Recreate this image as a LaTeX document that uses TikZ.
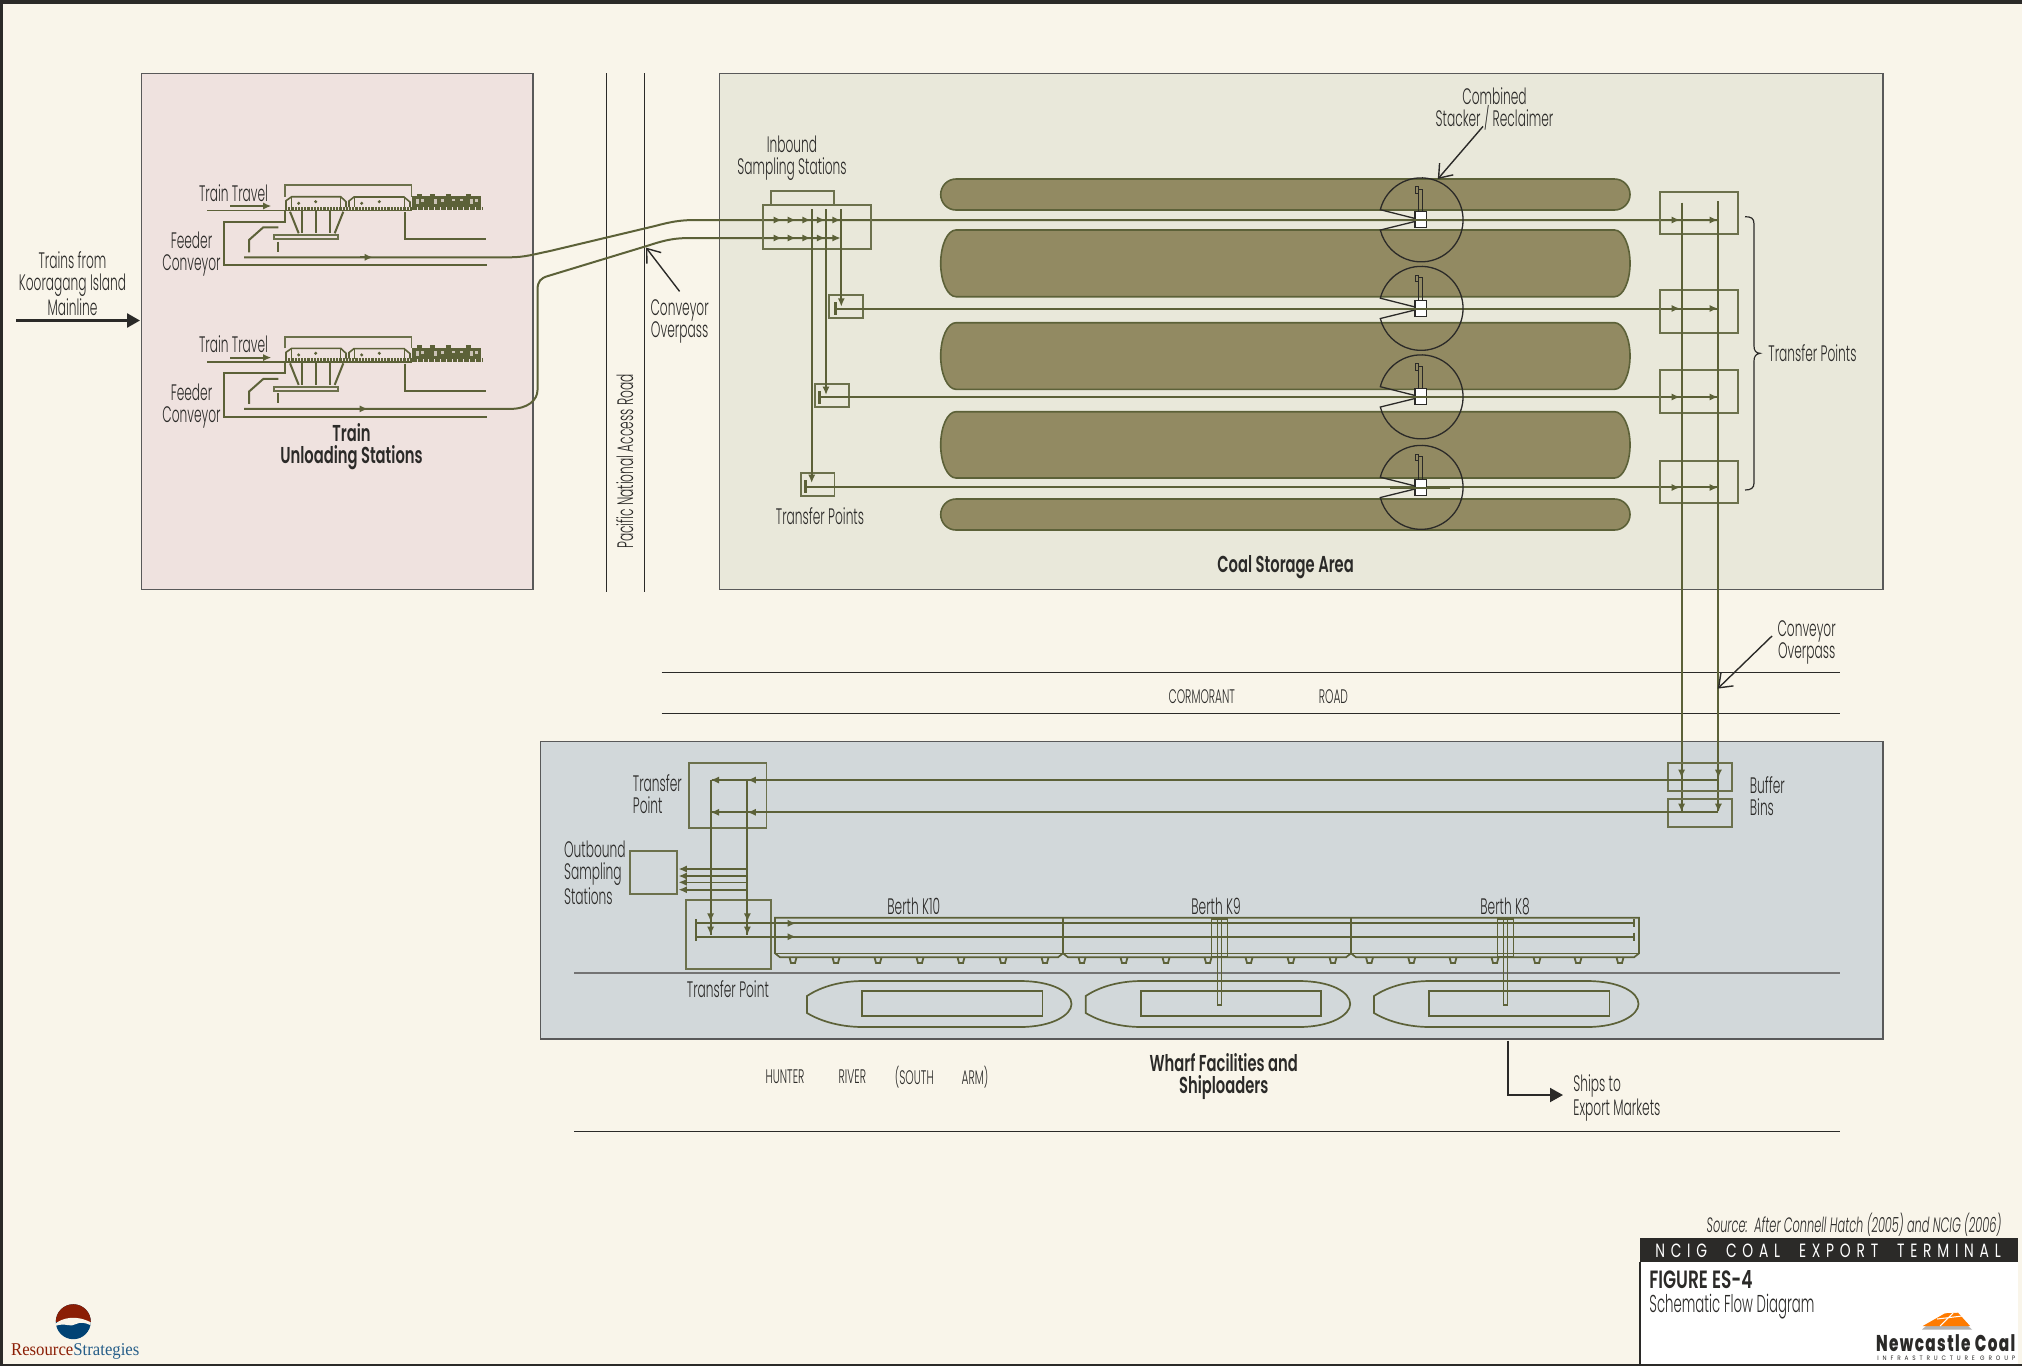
\documentclass[tikz,border=0pt]{standalone}
\usepackage{fontspec}
\setmainfont[FakeStretch=0.545,ItalicFont={Poppins Light Italic}]{Poppins Light}
\newfontfamily\titlefont[FakeStretch=0.64]{Poppins SemiBold}
\newfontfamily\barfont[FakeStretch=0.72,LetterSpace=30,WordSpace=2]{Poppins}
\newfontfamily\headfont[FakeStretch=0.68]{Poppins SemiBold}
\newfontfamily\brandfont[FakeStretch=0.67,LetterSpace=6]{Poppins ExtraBold}
\newfontfamily\groupfont[FakeStretch=0.9,LetterSpace=60]{Poppins}
\newfontfamily\rsfont[FakeStretch=0.93]{Liberation Serif}
\usetikzlibrary{arrows.meta,positioning}
\definecolor{paper}{HTML}{F9F5EA}
\definecolor{trainbg}{HTML}{EFE2DF}
\definecolor{coalbg}{HTML}{E9E8DA}
\definecolor{wharfbg}{HTML}{D2D8DA}
\definecolor{pilefill}{HTML}{928A62}
\definecolor{olive}{HTML}{5C6138}
\definecolor{ink}{HTML}{2B2A28}
\definecolor{rsred}{HTML}{8B1E05}
\definecolor{rsblue}{HTML}{004274}
\tikzset{
  panel/.style={draw=black!65, line width=0.6pt},
  road/.style={draw=ink, line width=0.45pt},
  conv/.style={draw=olive, line width=1pt},
  boxline/.style={draw=olive!90!white, line width=0.9pt},
  tip/.style={olive, line width=0.9pt, -{Latex[length=4.2pt,width=3.6pt]}},
  pile/.style={draw=olive, line width=0.8pt, fill=pilefill},
  reclaim/.style={draw=ink, line width=0.65pt},
  callout/.style={draw=ink, line width=0.7pt, -{Straight Barb[length=6pt,width=9pt]}},
  heavyarrow/.style={draw=ink, line width=1.3pt, -{Triangle[length=6.5pt,width=7pt]}},
  note/.style={font=\fontsize{11.2}{11}\selectfont, text=ink, align=center, inner sep=0pt},
  leftnote/.style={note, align=left},
  smallnote/.style={note, font=\fontsize{9.8}{10}\selectfont},
  title/.style={font=\titlefont\fontsize{11.5}{11}\selectfont, text=ink, align=center, inner sep=0pt}
}
\begin{document}
\begin{tikzpicture}[x=0.5pt,y=-0.5pt]
  \useasboundingbox (0,0) rectangle (2022,1366);
  \fill[paper] (0,0) rectangle (2022,1366);
  \fill[ink] (0,0) rectangle (2022,4);
  \fill[ink] (0,0) rectangle (3,1366);
  \fill[ink] (0,1364) rectangle (2022,1366);

  \draw[panel,fill=trainbg] (141.5,73.5) rectangle (533,589.5);
  \draw[panel,fill=coalbg] (719.5,73.5) rectangle (1883,589.5);
  \draw[panel,fill=wharfbg] (540.5,741.5) rectangle (1883,1039);
  \draw[road] (606,73) -- (606,592);
  \draw[road] (644,73) -- (644,592);
  \draw[road] (661.5,672) -- (1840,672);
  \draw[road] (661.5,713) -- (1840,713);
  \draw[road] (574,1131) -- (1840,1131);
  \draw[draw=black!55,line width=0.9pt] (574,972.7) -- (1840,972.7);

  \foreach \dy in {0,151.6}{
    \begin{scope}[shift={(0,\dy)}]
      \draw[conv,line width=0.6pt] (207,210.3) -- (412,210.3);
      \draw[tip] (230,206) -- (271.4,206);
      \draw[boxline] (285,196.7) -- (285,185) -- (411.5,185) -- (411.5,196.7);
      \draw[conv,line width=0.8pt] (286,207) -- (286,200.7) -- (291.7,196.7) -- (340.7,196.7) -- (346,201.7) -- (346,207);
      \draw[conv,line width=0.8pt] (349,207) -- (349,201) -- (354,197) -- (404,197) -- (410,202) -- (410,207);
      \draw[conv,line width=0.5pt] (291.7,197) -- (291.7,207) (340.7,197) -- (340.7,207) (354,197) -- (354,207) (404,197) -- (404,207);
      \foreach \px/\py in {298.7/203.3,315.7/201.7,361.7/203.3,379.3/201.7}{\fill[olive] (\px,\py) circle (1.7);}
      \draw[olive,line width=1.5pt,dash pattern=on 1.1pt off 0.5pt] (285,208.3) -- (412,208.3);
      \fill[olive] (412,196) rectangle (481,207);
      \foreach \wx in {417,430,446,466}{\fill[olive] (\wx,193.5) rectangle ++(5,3);}
      \foreach \wx/\wh in {416/5,421/3,434/5,441/3,452/2,460/2,470/5,475/3}{\fill[trainbg!75!olive] (\wx,199) rectangle ++(3,\wh);}
      \draw[olive,line width=1.6pt,dash pattern=on 2.4pt off 0.5pt] (412,208.3) -- (482,208.3);
      \draw[conv] (285,211) -- (285,221.7) -- (223.5,221.7) -- (223.5,265) -- (486.5,265);
      \draw[conv] (405,212) -- (405,239) -- (486,239);
      \draw[conv] (290,211.7) -- (298.7,233.3);
      \draw[conv] (343.3,211.7) -- (334.7,233.3);
      \foreach \hx in {302,315.7,329.7}{\draw[conv] (\hx,211) -- (\hx,233);}
      \draw[boxline] (274,235) rectangle (337.7,239.3);
      \draw[conv] (249,252.3) -- (249,240) -- (263.3,227.3) -- (278.3,227.3);
      \draw[conv] (278.3,241.7) -- (278.3,251.7);
      \node[note] (travel\dy) at (233.5,193) {Train Travel};
      \node[note] (feeder\dy) at (191.5,254.5) {Feeder\\Conveyor};
    \end{scope}
  }
  \draw[conv] (244,257.3) -- (510,257.3) .. controls (525,257.3) and (535,254) .. (550,251) -- (655,226) .. controls (670,222) and (680,220) .. (695,220) -- (1717,220);
  \draw[conv] (244,408.9) -- (510,408.9) .. controls (528,408.9) and (537.5,400) .. (537.5,390) -- (537.5,290) .. controls (537.5,281) and (541,278) .. (548,276) -- (650,245) .. controls (665,240) and (675,238) .. (690,238) -- (838,238);
  \draw[tip] (360,257.3) -- (373,257.3);
  \draw[tip] (355,408.9) -- (368,408.9);

  \foreach \ya/\yb in {179/210,230/296.7,322.7/389.3,411.7/478,499/530}{
    \draw[pile] (956,\ya) -- (1614.5,\ya) .. controls (1623,\ya) and (1630,{\ya+0.225*(\yb-\ya)}) .. (1630,{0.5*(\ya+\yb)}) .. controls (1630,{\yb-0.225*(\yb-\ya)}) and (1623,\yb) .. (1614.5,\yb) -- (956,\yb) .. controls (947.5,\yb) and (940.7,{\yb-0.225*(\yb-\ya)}) .. (940.7,{0.5*(\ya+\yb)}) .. controls (940.7,{\ya+0.225*(\yb-\ya)}) and (947.5,\ya) .. (956,\ya) -- cycle;
  }

  \draw[boxline] (763.3,204.7) rectangle (871.3,249.3);
  \draw[boxline] (770.7,190.7) rectangle (833.7,204.7);
  \foreach \bx/\by in {829.3/295,815.3/384,801/473}{\draw[boxline] (\bx,\by) rectangle ++(33.4,23);}
  \foreach \ax in {782,796,810.7,825.3,840.7}{
    \draw[tip] (\ax-8,220) -- (\ax,220);
    \draw[tip] (\ax-8,238) -- (\ax,238);
  }
  \draw[tip] (841.3,209.3) -- (841.3,306.7);
  \draw[tip] (826,209.3) -- (826,395);
  \draw[tip] (811.7,209.3) -- (811.7,483);
  \foreach \ty/\tx in {308.7/835.3,397.3/819.3,486.7/805.3}{
    \draw[conv,line width=1.4pt] (\tx,{\ty-6.4}) -- (\tx,{\ty+6.4});
    \draw[conv] (\tx,\ty) -- (1717,\ty);
  }
  \foreach \cy in {220,308.5,397,487.5}{
    \draw[tip] (1672,\cy) -- (1680,\cy);
    \draw[tip] (1709,\cy) -- (1718,\cy);
  }
  \foreach \ry in {191.7,290,370,460.7}{\draw[boxline] (1659.7,\ry) rectangle (1737.8,{\ry+42.6});}
  \foreach \sy in {220,308.5,397,487.5}{
    \draw[reclaim] ({1421-40.7},{\sy-10.3}) arc[start angle=194,end angle=526,radius=42] -- (1421,\sy) -- cycle;
    \draw[reclaim,fill=white] (1415,{\sy-8.3}) rectangle (1426.4,{\sy+7.7});
    \draw[reclaim,line width=0.5pt] (1418.4,{\sy-8.3}) -- (1418.4,{\sy-30.7}) -- (1422.4,{\sy-30.7}) -- (1422.4,{\sy-8.3});
    \draw[reclaim,line width=0.5pt,fill=pilefill] (1415,{\sy-33.3}) rectangle (1418.4,{\sy-26.7});
    \draw[conv] (1390,\sy) -- (1450,\sy);
  }
  \draw[conv] (1681.6,202.7) -- (1681.6,811);
  \draw[conv] (1718.4,201.3) -- (1718.4,811);
  \foreach \bx in {1681.6,1718.4}{
    \draw[tip] (\bx,768) -- (\bx,778);
    \draw[tip] (\bx,802) -- (\bx,812);
  }
  \draw[ink,line width=0.6pt] (1745,216.7) .. controls (1751,216.7) and (1754,218) .. (1754,224) -- (1754,346) .. controls (1754,351) and (1756,353) .. (1760,353.3) .. controls (1756,354) and (1754,356) .. (1754,361) -- (1754,483) .. controls (1754,488) and (1751,490) .. (1745,490);

  \draw[boxline] (1668,762.7) rectangle (1731.6,791);
  \draw[boxline] (1668,798.7) rectangle (1731.6,827);
  \draw[boxline] (688.8,763.3) rectangle (766.5,828);
  \foreach \hy in {780,812.3}{
    \draw[conv] (1718.4,\hy) -- (712,\hy);
    \draw[tip] (720,\hy) -- (710.6,\hy);
    \draw[tip] (757,\hy) -- (747.4,\hy);
  }
  \draw[boxline] (630.3,850.7) rectangle (677.3,894);
  \foreach \oy in {869,876,882.3,889.7}{\draw[tip,line width=0.8pt] (747.4,\oy) -- (678.5,\oy);}
  \draw[boxline] (686,900.3) rectangle (770.7,969.3);
  \foreach \vx in {710.6,747.4}{
    \draw[conv] (\vx,780) -- (\vx,935);
    \draw[tip] (\vx,912) -- (\vx,921.7);
    \draw[tip] (\vx,925) -- (\vx,935);
  }
  \draw[conv,line width=0.85pt] (775,917.7) -- (1639,917.7) -- (1639,953.3) -- (1634,957.3) -- (1356,957.3) -- (1351,953.3) -- (1346,957.3) -- (1068,957.3) -- (1063,953.3) -- (1058,957.3) -- (780,957.3) -- (775,953.3) -- cycle;
  \draw[conv,line width=0.7pt] (775,953.3) -- (1639,953.3);
  \foreach \dx in {1063,1351}{\draw[conv] (\dx,917.7) -- (\dx,953.3);}
  \draw[conv,line width=0.8pt] (695.7,919) -- (695.7,940.7);
  \foreach \gy in {923.3,936.7}{
    \draw[conv] (696,\gy) -- (1634,\gy);
    \draw[conv,line width=0.8pt] (1634,{\gy-4}) -- (1634,{\gy+4});
    \draw[tip] (788,\gy) -- (796,\gy);
  }
  \foreach \lx in {793,836,878,920,961,1003,1045,1082,1124,1166,1208,1249,1291,1333,1369.5,1411.7,1453,1495,1537,1578,1620}{
    \draw[conv,line width=0.9pt] (\lx-3.5,957.3) -- (\lx-2,963) -- (\lx+2,963) -- (\lx+3.5,957.3);
  }
  \foreach \sa/\sb/\sc/\sd in {1211.5/1227.5/1217.8/1221.2,1497.5/1513.5/1503.3/1507.2}{
    \draw[conv,line width=0.65pt] (\sa,919) rectangle (\sb,957);
    \draw[conv,line width=0.65pt] (\sc,919) rectangle (\sd,1005);
  }
  \foreach \sx in {807,1085.7,1374}{
    \draw[conv,line width=0.85pt] (\sx,996) .. controls (\sx+15,986) and (\sx+35,981) .. (\sx+56,981) -- (\sx+213,981) .. controls (\sx+245,981) and (\sx+264.5,992) .. (\sx+264.5,1004) .. controls (\sx+264.5,1015) and (\sx+245,1027) .. (\sx+213,1027) -- (\sx+56,1027) .. controls (\sx+35,1027) and (\sx+15,1022) .. (\sx,1013) -- cycle;
    \draw[conv,line width=0.85pt] (\sx+55,991.3) rectangle (\sx+235.5,1016);
  }

  \node[note] (mainline) at (72.5,284) {Trains from\\Kooragang Island\\Mainline};
  \coordinate (trainpanel) at (140,320.5);
  \draw[heavyarrow] (16,320.5) -- (trainpanel);
  \node[title] (unload) at (351.5,447) {Train\\Unloading Stations};
  \node[note] (inbound) at (792,158) {Inbound\\Sampling Stations};
  \node[note] (lefttransfer) at (820,515.7) {Transfer Points};
  \node[note] (overpassA) at (679.6,321) {Conveyor\\Overpass};
  \coordinate (overpassAend) at (646,247.6);
  \draw[callout] (679.6,291.4) -- (overpassAend);
  \node[note,rotate=90] (access) at (624.8,461.6) {Pacific National Access Road};
  \node[note] (stacker) at (1494.5,108.5) {Combined\\Stacker / Reclaimer};
  \coordinate (stackerend) at (1437.8,179);
  \draw[callout] (1483,126.4) -- (stackerend);
  \node[leftnote,anchor=west] (righttransfer) at (1768,352.7) {Transfer Points};
  \node[title] (coalarea) at (1285.6,567) {Coal Storage Area};
  \node[note] (overpassB) at (1806.6,642.5) {Conveyor\\Overpass};
  \coordinate (overpassBend) at (1717.7,688.6);
  \draw[callout] (1772,636) -- (overpassBend);
  \node[smallnote] (cormorant) at (1201.8,696.3) {CORMORANT};
  \node[smallnote] (roadname) at (1333.4,696.3) {ROAD};
  \node[leftnote,anchor=west] (topbox) at (632.5,794) {Transfer\\Point};
  \node[leftnote,anchor=west] (outbound) at (563.7,872.5) {Outbound\\Sampling\\Stations};
  \node[note] (lowerbox) at (727.9,989) {Transfer Point};
  \node[leftnote,anchor=west] (buffer) at (1749.5,796) {Buffer\\Bins};
  \node[note] (k10) at (913.8,906.7) {Berth K10};
  \node[note] (k9) at (1216,906.7) {Berth K9};
  \node[note] (k8) at (1505,906.7) {Berth K8};
  \foreach \wx/\wt in {785/HUNTER,852.4/RIVER,914.3/(SOUTH,974.9/ARM)}{
    \node[smallnote] (river\wt) at (\wx,1076.7) {\wt};
  }
  \node[title] (wharf) at (1223.7,1076) {Wharf Facilities and\\Shiploaders};
  \node[leftnote,anchor=west] (ships) at (1573,1098) {Ships to\\Export Markets};
  \coordinate (shipsstart) at (1508,1040.6);
  \draw[heavyarrow,line width=1pt] (shipsstart) |- (1563,1095);

  \node[note,anchor=east,font=\fontsize{10.4}{10}\itshape\selectfont] (source) at (2001.7,1225) {Source:\ \ After Connell Hatch (2005) and NCIG (2006)};
  \fill[white] (1640,1261.7) rectangle (2018.3,1364);
  \draw[ink,line width=0.6pt] (1640,1261.7) -- (1640,1364);
  \fill[ink] (1640,1238.3) rectangle (2018.3,1261.7);
  \node[font=\barfont\fontsize{9.6}{11}\selectfont,text=white,inner sep=0pt] (terminal) at (1828,1251) {NCIG COAL EXPORT TERMINAL};
  \node[font=\headfont\fontsize{12.5}{12}\selectfont,text=ink,inner sep=0pt,anchor=west] (figno) at (1649,1280) {FIGURE ES-4};
  \node[note,anchor=west,font=\fontsize{12.2}{11}\selectfont] (figname) at (1649,1306.5) {Schematic Flow Diagram};
  \fill[black!30] (1926,1326) -- (1968,1326) -- (1972,1329.5) -- (1922,1329.5) -- cycle;
  \fill[orange!85!red!90!yellow] (1922.7,1326) -- (1945,1313.3) -- (1958,1312.7) -- (1970,1326) -- cycle;
  \draw[white,line width=0.5pt] (1937,1319) -- (1962,1316) (1953,1313) -- (1940,1326);
  \node[font=\brandfont\fontsize{11.4}{12}\selectfont,text=ink,inner sep=0pt,anchor=east] (brand) at (2015.7,1343) {Newcastle Coal};
  \node[font=\groupfont\fontsize{3.2}{4}\selectfont,text=ink,inner sep=0pt,anchor=east] (group) at (2015.7,1358) {INFRASTRUCTURE GROUP};

  \begin{scope}
    \clip (73.3,1321.7) circle (17.5);
    \fill[rsblue] (55,1304) rectangle (92,1340);
    \fill[rsred] (55,1304) rectangle (92,1322);
    \fill[paper] (55,1324) .. controls (62,1318) and (76,1314) .. (92,1323) -- (92,1326) .. controls (85,1322) and (80,1322) .. (76,1324) .. controls (70,1328) and (66,1322) .. (55,1326) -- cycle;
  \end{scope}
  \node[font=\rsfont\fontsize{9}{10}\selectfont,inner sep=0pt,anchor=west] (rsname) at (10.7,1351.7) {\textcolor{rsred}{Resource}\textcolor{rsblue!85!white}{Strategies}};
\end{tikzpicture}
\end{document}
